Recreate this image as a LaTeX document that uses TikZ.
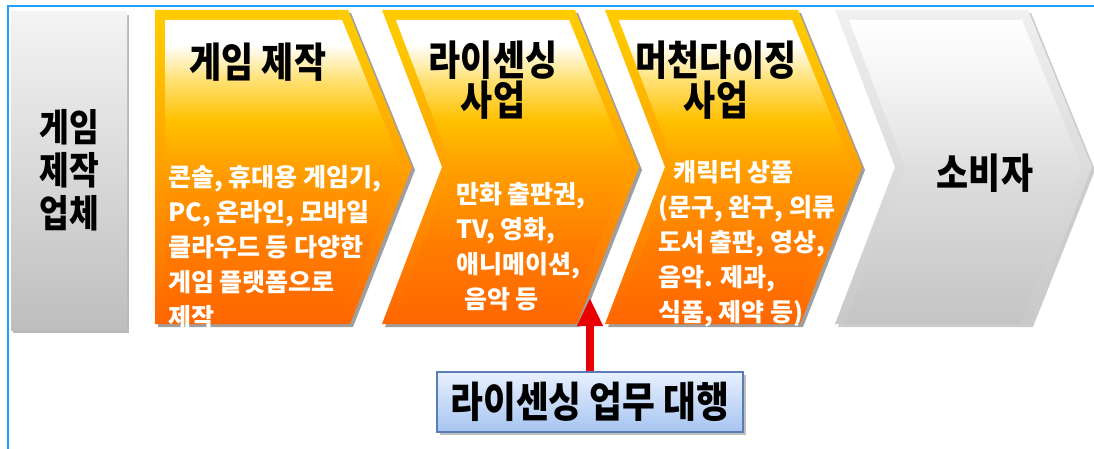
\documentclass[tikz,border=0pt]{standalone}
\usepackage{fontspec}
\setmainfont{Noto Sans CJK KR}
\newfontfamily\headfont{Noto Sans CJK KR}[FakeStretch=0.85]
\usetikzlibrary{arrows.meta}
\definecolor{frameblue}{RGB}{30,160,255}
\definecolor{orA}{RGB}{255,102,0}
\definecolor{orB}{RGB}{255,122,0}
\definecolor{orC}{RGB}{255,160,0}
\definecolor{orD}{RGB}{255,192,0}
\definecolor{orE}{RGB}{255,224,112}
\definecolor{orY}{RGB}{255,204,0}
\definecolor{orY2}{RGB}{255,196,0}
\definecolor{gyA}{RGB}{196,196,196}
\definecolor{gyB}{RGB}{222,222,222}
\definecolor{gyC}{RGB}{244,244,244}
\definecolor{gyO1}{RGB}{200,200,200}
\definecolor{gyO2}{RGB}{240,240,240}
\definecolor{licborder}{RGB}{90,125,181}
\definecolor{lictop}{RGB}{232,241,255}
\definecolor{licbot}{RGB}{166,196,240}
\definecolor{arrowred}{RGB}{232,0,0}
\pgfdeclareverticalshading{orout}{100bp}{color(0bp)=(orA); color(25bp)=(orA); color(50bp)=(orC); color(68bp)=(orY2); color(75bp)=(orY); color(100bp)=(orY)}
\pgfdeclareverticalshading{orin}{100bp}{color(0bp)=(orA); color(25bp)=(orA); color(37bp)=(orB); color(51bp)=(orC); color(58.5bp)=(orD); color(65bp)=(orE); color(71bp)=(white); color(100bp)=(white)}
\pgfdeclareverticalshading{gyout}{100bp}{color(0bp)=(gyO1); color(25bp)=(gyO1); color(75bp)=(gyO2); color(100bp)=(gyO2)}
\pgfdeclareverticalshading{gyin}{100bp}{color(0bp)=(gyA); color(25bp)=(gyA); color(50bp)=(gyB); color(65bp)=(gyC); color(75bp)=(white); color(100bp)=(white)}
\newcommand\drawchev[5]{%
  \begin{scope}[shift={(#1,0)}]
    \fill[#5] (3,-13) -- (196,-13) -- (260,-170) -- (198,-327) -- (3,-327) -- ({#2+3},-170) -- cycle;
    \shade[shading=#3] (0,-10) -- (193,-10) -- (257,-167) -- (195,-324) -- (0,-324) -- (#2,-167) -- cycle;
    \shade[shading=#4] ({10+#2*0.064},-20) -- (187,-20) -- (247,-167) -- (185,-324) -- (10,-324) -- ({#2+10},-167) -- cycle;
  \end{scope}}
\tikzset{
  head/.style={font=\headfont\bfseries\fontsize{41}{40}\selectfont, inner sep=0pt, text=black},
  body/.style={font=\bfseries\fontsize{25}{35}\selectfont, inner sep=0pt, text=white, align=left, anchor=north west},
  licbox/.style={draw=licborder, line width=1.2pt, top color=lictop, bottom color=licbot,
    minimum width=306pt, minimum height=60pt, inner sep=0pt,
    font=\headfont\bfseries\fontsize{42}{40}\selectfont},
  redarrow/.style={draw=arrowred, line width=8pt, -{Triangle[width=24pt,length=28pt]}}
}
\begin{document}
\begin{tikzpicture}[x=1pt,y=1pt]
\useasboundingbox (0,0) rectangle (1094,-449);
\fill[white] (0,0) rectangle (1094,-449);
% frame
\draw[frameblue, line width=2pt] (7.5,-449) -- (7.5,-6) -- (1094,-6);
% left gray box
\fill[gray!55] (13,-15) rectangle (129,-333);
\shade[top color=gyC, bottom color={rgb,255:red,190;green,190;blue,190}] (11,-12) rectangle (127,-330);
\node[head, align=center, font=\headfont\bfseries\fontsize{38}{43}\selectfont] (t0) at (69,-170) {게임\\제작\\업체};
% chevrons
\drawchev{155}{0}{orout}{orin}{gray!75}
\drawchev{382}{60}{orout}{orin}{gray!75}
\drawchev{605}{60}{orout}{orin}{gray!75}
\drawchev{835}{60}{gyout}{gyin}{gray!40}
% titles
\node[head] (t1) at (258,-62) {게임 제작};
\node[head, align=center] (t2) at (493,-80) {라이센싱\\사업};
\node[head, align=center] (t3) at (716,-80) {머천다이징\\사업};
\node[head] (t4) at (985,-173) {소비자};
% bodies
\node[body] (b1) at (168,-165) {콘솔, 휴대용 게임기,\\PC, 온라인, 모바일\\클라우드 등 다양한\\게임 플랫폼으로\\제작};
\node[body] (b2) at (456,-182) {만화 출판권,\\TV, 영화,\\애니메이션,\\\hspace*{8pt}음악 등};
\node[body] (b3) at (658,-160) {\hspace*{15pt}캐릭터 상품\\(문구, 완구, 의류\\도서 출판, 영상,\\음악. 제과,\\식품, 제약 등)};
% licensing box
\fill[gray!50] (440,-375) rectangle (746,-435);
\node[licbox] (lic) at (590,-402) {라이센싱 업무 대행};
\coordinate (tip) at (590,-298);
\draw[redarrow] (lic.north) -- (tip);
\end{tikzpicture}
\end{document}
